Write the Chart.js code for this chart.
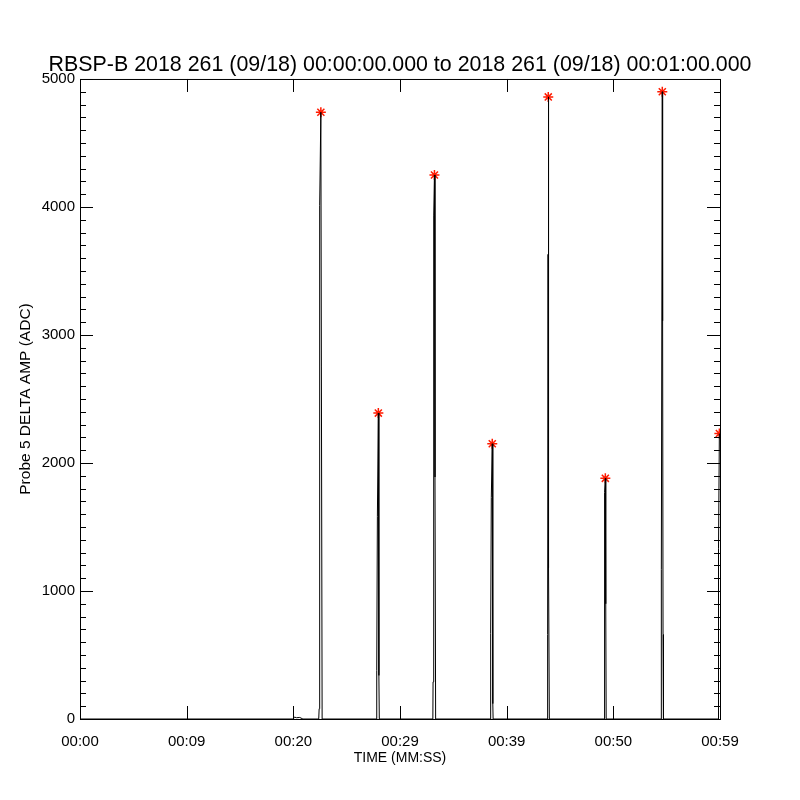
<!DOCTYPE html>
<html>
<head>
<meta charset="utf-8">
<script src="https://cdn.jsdelivr.net/npm/chart.js@4"></script>
<style>
  body { margin: 0; background: #fff; }
  canvas { display: block; }
</style>
</head>
<body>
<canvas id="chart" width="800" height="800"></canvas>
<script>
// time in seconds from 00:00:00, amplitude in ADC
const times = [
  0, 20.0, 20.1, 20.3, 20.6, 20.9,
  22.38, 22.42, 22.47, 22.58, 22.63, 22.70,
  27.80, 27.82, 27.88, 27.97, 28.02, 28.06,
  33.08, 33.10, 33.16, 33.23, 33.28, 33.34,
  38.48, 38.50, 38.56, 38.65, 38.70, 38.73,
  43.82, 43.84, 43.88, 43.90, 43.95, 44.00,
  49.14, 49.16, 49.20, 49.25, 49.29, 49.33,
  54.48, 54.50, 54.59, 54.62, 54.66, 54.70,
  59.83, 59.86, 59.94
];
const amps = [
  0, 0, 15, 10, 12, 0,
  0, 80, 4010, 4740, 2750, 0,
  0, 380, 1580, 2390, 340, 0,
  0, 290, 3930, 4250, 1890, 0,
  0, 670, 1730, 2150, 120, 0,
  0, 660, 3630, 4860, 1180, 0,
  0, 1010, 1770, 1880, 900, 0,
  0, 1170, 4900, 3110, 660, 0,
  0, 1330, 2230
];
const peakTimes = [22.58, 27.97, 33.23, 38.65, 43.90, 49.25, 54.59, 59.94];
const peakAmps = [4740, 2390, 4250, 2150, 4860, 1880, 4900, 2230];
const xTickLabels = ['00:00', '00:09', '00:20', '00:29', '00:39', '00:50', '00:59'];

const font = 'Liberation Sans';

// box around the plot with inward ticks, like the original
const frame = {
  id: 'frame',
  afterDraw(chart) {
    const { ctx, chartArea: a, scales } = chart;
    ctx.save();
    ctx.strokeStyle = '#000';
    ctx.lineWidth = 1;
    ctx.strokeRect(a.left + 0.5, a.top + 0.5, a.right - a.left, a.bottom - a.top);
    ctx.beginPath();
    for (let v = 0; v <= 5000; v += 100) {
      const y = Math.round(scales.y.getPixelForValue(v)) + 0.5;
      const len = v % 1000 === 0 ? 13 : 6;
      ctx.moveTo(a.left, y); ctx.lineTo(a.left + len, y);
      ctx.moveTo(a.right, y); ctx.lineTo(a.right - len, y);
    }
    for (let v = 0; v <= 60; v += 10) {
      const x = Math.round(scales.x.getPixelForValue(v)) + 0.5;
      ctx.moveTo(x, a.bottom); ctx.lineTo(x, a.bottom - 13);
      ctx.moveTo(x, a.top); ctx.lineTo(x, a.top + 13);
    }
    ctx.stroke();
    ctx.restore();
  }
};

new Chart(document.getElementById('chart'), {
  type: 'line',
  data: {
    datasets: [{
      data: times.map((t, i) => ({ x: t, y: amps[i] })),
      borderColor: '#000',
      borderWidth: 1,
      pointRadius: 0,
      tension: 0
    }, {
      type: 'scatter',
      data: peakTimes.map((t, i) => ({ x: t, y: peakAmps[i] })),
      pointStyle: 'star',
      pointRadius: 5,
      borderColor: '#ff1a00',
      borderWidth: 1.5
    }]
  },
  options: {
    responsive: false,
    animation: false,
    devicePixelRatio: 1,
    layout: { padding: 0 },
    plugins: {
      legend: { display: false },
      tooltip: { enabled: false },
      title: {
        display: true,
        text: 'RBSP-B 2018 261 (09/18) 00:00:00.000 to 2018 261 (09/18) 00:01:00.000',
        color: '#000',
        font: { family: font, size: 21.4, weight: 'normal' },
        padding: { top: 52, bottom: 1.3 }
      }
    },
    scales: {
      x: {
        type: 'linear',
        min: 0,
        max: 60,
        grid: { display: false, drawTicks: false },
        border: { display: false },
        ticks: {
          stepSize: 10,
          color: '#000',
          padding: 14,
          maxRotation: 0,
          font: { family: font, size: 15 },
          callback: (v) => xTickLabels[v / 10]
        },
        title: {
          display: true,
          text: 'TIME (MM:SS)',
          color: '#000',
          font: { family: font, size: 14 },
          padding: { bottom: 33 }
        },
        afterFit: (s) => { s.height = 81; }
      },
      y: {
        min: 0,
        max: 5000,
        grid: { display: false, drawTicks: false },
        border: { display: false },
        ticks: {
          stepSize: 1000,
          color: '#000',
          padding: 5,
          font: { family: font, size: 15 },
          callback: (v) => String(v)
        },
        title: {
          display: true,
          text: 'Probe 5 DELTA AMP (ADC)',
          color: '#000',
          font: { family: font, size: 15.5 },
          padding: { top: 16 }
        },
        afterFit: (s) => { s.width = 80; }
      },
      // empty right-hand axis, only keeps an 80 px margin so the title stays centred
      yRight: {
        position: 'right',
        min: 0,
        max: 5000,
        grid: { display: false, drawTicks: false },
        border: { display: false },
        ticks: { display: false },
        afterFit: (s) => { s.width = 80; }
      }
    }
  },
  plugins: [frame]
});
</script>
</body>
</html>
